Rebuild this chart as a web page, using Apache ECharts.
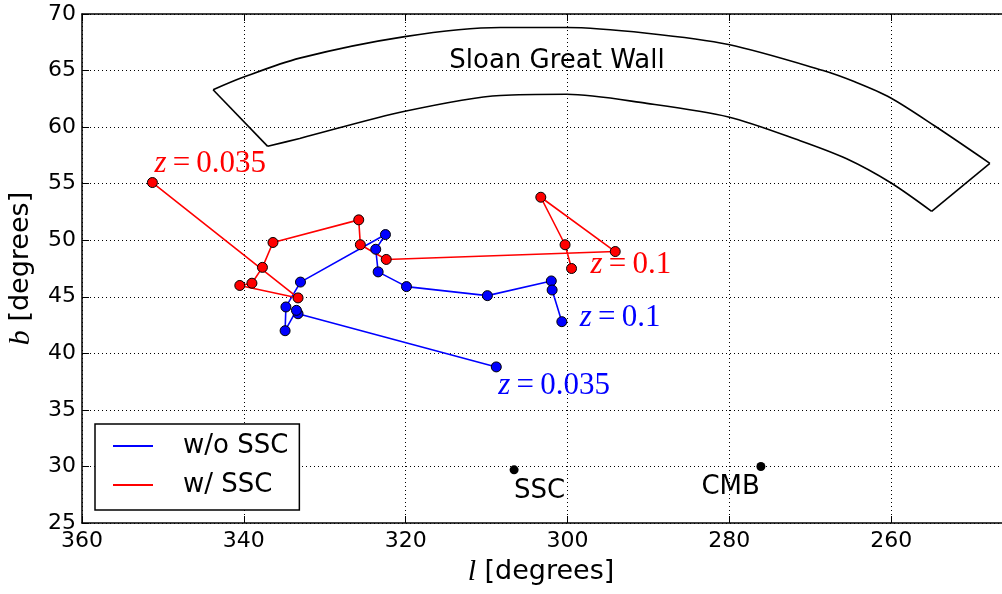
<!DOCTYPE html>
<html>
<head>
<meta charset="utf-8">
<script src="https://cdn.jsdelivr.net/npm/echarts@6/dist/echarts.min.js"></script>
<style>html,body{margin:0;padding:0;background:#fff}#c{width:1002px;height:594px}</style>
</head>
<body>
<div id="c"></div>
<script>
// ---- data ----
const xTicks = [360, 340, 320, 300, 280, 260];
const yTicks = [25, 30, 35, 40, 45, 50, 55, 60, 65, 70];

// w/o SSC (blue), ordered from z=0.035 to z=0.1
const blueL = [308.8, 333.3, 333.5, 334.9, 334.8, 333.0, 322.5, 323.7, 323.4, 319.9, 309.9, 302.0, 301.9, 300.7];
const blueB = [38.8, 43.5, 43.8, 42.0, 44.1, 46.3, 50.5, 49.2, 47.2, 45.9, 45.1, 46.4, 45.6, 42.8];

// w/ SSC (red), ordered from z=0.035 to z=0.1
const redL = [351.3, 333.3, 340.5, 339.0, 337.7, 336.4, 325.8, 325.6, 322.4, 294.1, 303.3, 300.3, 299.5];
const redB = [55.1, 44.9, 46.0, 46.2, 47.6, 49.8, 51.8, 49.6, 48.3, 49.0, 53.8, 49.6, 47.5];

// reference directions
const refNames = ['SSC', 'CMB'];
const refL = [306.6, 276.1];
const refB = [29.7, 30.0];

// Sloan Great Wall outline
const wallTopL = [343.8, 340.1, 333.1, 320.1, 308.3, 300.1, 290.2, 280.1, 268.4, 264.5, 260.1, 254.6, 247.8];
const wallTopB = [63.3, 64.4, 66.1, 68.0, 68.8, 68.8, 68.3, 67.3, 65.0, 64.0, 62.6, 60.1, 56.8];
const wallBotL = [337.05, 333.1, 320.1, 308.3, 300.1, 290.2, 280.1, 271.25, 265.5, 260.1, 255.0];
const wallBotB = [58.3, 59.0, 61.4, 62.8, 62.9, 62.1, 60.9, 58.8, 57.2, 55.1, 52.55];
const wallLabel = ['Sloan Great Wall', 301.3, 65.8];

// ---- chart ----
const zip = (a, b) => a.map((v, i) => [v, b[i]]);
const mathRich = (color) => ({
  zi: {fontFamily: 'Liberation Serif', fontStyle: 'italic', fontSize: 31, color: color},
  zn: {fontFamily: 'Liberation Serif', fontSize: 31, color: color}
});
function zLabel(text, color, offset) {
  return {
    show: true, position: 'inside', align: 'left', verticalAlign: 'middle',
    offset: offset, formatter: '{zi|z}{zn|\u2009=\u2009' + text + '}', rich: mathRich(color)
  };
}
function pathSeries(name, ls, bs, color, labels) {
  const data = zip(ls, bs).map((p, i) => {
    const it = {value: p};
    if (i === 0) it.label = zLabel('0.035', color, labels[0]);
    if (i === ls.length - 1) it.label = zLabel('0.1', color, labels[1]);
    return it;
  });
  return {
    name: name, type: 'line', data: data, symbol: 'circle', symbolSize: 10,
    showSymbol: true, animation: false, z: 3,
    lineStyle: {color: color, width: 1.6},
    itemStyle: {color: color, borderColor: '#000', borderWidth: 1, opacity: 1},
    label: {show: false}, emphasis: {disabled: true}
  };
}
function outline(data, smooth) {
  return {
    type: 'line', data: data, symbol: 'none', smooth: smooth,
    silent: true, animation: false,
    lineStyle: {color: '#000', width: 1.6}, z: 2
  };
}

const chart = echarts.init(document.getElementById('c'), null, {renderer: 'canvas'});
const axisFont = {fontFamily: 'DejaVu Sans', fontSize: 22, color: '#000'};

chart.setOption({
  backgroundColor: '#fff',
  animation: false,
  grid: {left: 82, top: 14, width: 971, height: 509, containLabel: false, outerBoundsMode: 'none'},
  xAxis: [{
    type: 'value', inverse: true, min: 240, max: 360, interval: 20, position: 'bottom',
    axisLine: {show: true, onZero: false, lineStyle: {color: '#000', width: 1.5}},
    axisTick: {show: true, inside: true, length: 7, lineStyle: {color: '#000'}},
    axisLabel: Object.assign({margin: 7, formatter: v => xTicks.includes(v) ? String(v) : ''}, axisFont),
    splitLine: {show: true, lineStyle: {color: '#000', type: [1, 3], width: 1}},
    name: '{i|l} [degrees]', nameLocation: 'middle', nameGap: 34,
    nameTextStyle: {fontFamily: 'DejaVu Sans', fontSize: 27, color: '#000', padding: [0, 53, 0, 0],
      rich: {i: {fontFamily: 'Liberation Serif', fontStyle: 'italic', fontSize: 30, color: '#000'}}}
  }, {
    type: 'value', inverse: true, min: 240, max: 360, interval: 20, position: 'top',
    axisLine: {show: true, onZero: false, lineStyle: {color: '#000', width: 1.5}},
    axisTick: {show: true, inside: true, length: 7, lineStyle: {color: '#000'}},
    axisLabel: {show: false}, splitLine: {show: false}
  }],
  yAxis: [{
    type: 'value', min: 25, max: 70, interval: 5,
    axisLine: {show: true, onZero: false, lineStyle: {color: '#000', width: 1.5}},
    axisTick: {show: true, inside: true, length: 7, lineStyle: {color: '#000'}},
    axisLabel: Object.assign({margin: 6, formatter: v => yTicks.includes(v) ? String(v) : ''}, axisFont),
    splitLine: {show: true, lineStyle: {color: '#000', type: [1, 3], width: 1}},
    name: '{i|b} [degrees]', nameLocation: 'middle', nameGap: 46,
    nameTextStyle: {fontFamily: 'DejaVu Sans', fontSize: 27, color: '#000',
      rich: {i: {fontFamily: 'Liberation Serif', fontStyle: 'italic', fontSize: 30, color: '#000'}}}
  }],
  legend: {
    data: ['w/o SSC', 'w/ SSC'], orient: 'vertical', left: 95, top: 424,
    icon: 'rect', itemWidth: 40, itemHeight: 2, itemGap: 13,
    padding: [9, 11, 12, 18], borderColor: '#000', borderWidth: 1.5, backgroundColor: '#fff',
    itemStyle: {borderWidth: 0},
    textStyle: {fontFamily: 'DejaVu Sans', fontSize: 26, color: '#000', lineHeight: 26, padding: [0, 0, 0, 25]},
    selectedMode: false
  },
  series: [
    outline(zip(wallTopL, wallTopB), 0.3),
    outline(zip(wallBotL, wallBotB), 0.3),
    outline([[wallTopL[0], wallTopB[0]], [wallBotL[0], wallBotB[0]]], false),
    outline([[wallTopL[wallTopL.length - 1], wallTopB[wallTopB.length - 1]],
             [wallBotL[wallBotL.length - 1], wallBotB[wallBotB.length - 1]]], false),
    {
      type: 'scatter', silent: true, symbolSize: 0, animation: false,
      itemStyle: {opacity: 1},
      data: [{value: [wallLabel[1], wallLabel[2]]}],
      label: {show: true, position: 'inside', formatter: wallLabel[0], fontFamily: 'DejaVu Sans',
        fontSize: 26, color: '#000', align: 'center', verticalAlign: 'middle'}
    },
    pathSeries('w/o SSC', blueL, blueB, '#0000ff', [[2, 19], [18, -4]]),
    pathSeries('w/ SSC', redL, redB, '#ff0000', [[2, -19], [19, -4]]),
    {
      type: 'scatter', silent: true, symbol: 'circle', symbolSize: 9, animation: false, z: 4,
      itemStyle: {color: '#000', opacity: 1},
      data: refNames.map((n, i) => ({
        name: n, value: [refL[i], refB[i]],
        label: {show: true, position: 'inside', formatter: n, fontFamily: 'DejaVu Sans', fontSize: 26,
          color: '#000', align: i === 0 ? 'left' : 'right', verticalAlign: 'middle',
          offset: i === 0 ? [0, 21] : [-1, 21]}
      }))
    }
  ]
});
</script>
</body>
</html>
